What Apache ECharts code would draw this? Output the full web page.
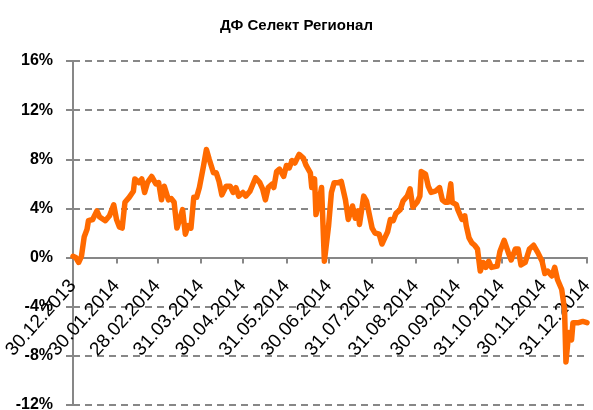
<!DOCTYPE html>
<html>
<head>
<meta charset="utf-8">
<script src="https://cdn.jsdelivr.net/npm/echarts@6/dist/echarts.min.js"></script>
<style>
  html, body { margin: 0; padding: 0; background: #fff; }
  #chart { width: 593px; height: 410px; }
</style>
</head>
<body>
<div id="chart"></div>
<script>
// ДФ Селект Регионал, доходность с 30.12.2013, %
const dates = [
  '2013-12-30', '2014-01-01', '2014-01-03', '2014-01-05', '2014-01-07', '2014-01-09', '2014-01-10',
  '2014-01-13', '2014-01-16', '2014-01-18', '2014-01-22', '2014-01-25', '2014-01-28', '2014-01-30',
  '2014-02-01', '2014-02-03', '2014-02-05', '2014-02-08', '2014-02-11', '2014-02-12', '2014-02-15',
  '2014-02-17', '2014-02-19', '2014-02-21', '2014-02-24', '2014-02-27', '2014-03-01', '2014-03-03',
  '2014-03-05', '2014-03-08', '2014-03-10', '2014-03-12', '2014-03-14', '2014-03-16', '2014-03-18',
  '2014-03-20', '2014-03-22', '2014-03-24', '2014-03-26', '2014-03-28', '2014-03-30', '2014-04-02',
  '2014-04-04', '2014-04-06', '2014-04-09', '2014-04-11', '2014-04-13', '2014-04-15', '2014-04-18',
  '2014-04-21', '2014-04-23', '2014-04-25', '2014-04-27', '2014-04-30', '2014-05-02', '2014-05-05',
  '2014-05-09', '2014-05-12', '2014-05-14', '2014-05-16', '2014-05-18', '2014-05-21', '2014-05-22',
  '2014-05-24', '2014-05-26', '2014-05-29', '2014-05-31', '2014-06-02', '2014-06-04', '2014-06-06',
  '2014-06-09', '2014-06-12', '2014-06-14', '2014-06-17', '2014-06-18', '2014-06-20', '2014-06-21',
  '2014-06-23', '2014-06-25', '2014-06-27', '2014-06-30', '2014-07-02', '2014-07-04', '2014-07-07',
  '2014-07-09', '2014-07-12', '2014-07-14', '2014-07-17', '2014-07-19', '2014-07-21', '2014-07-22',
  '2014-07-25', '2014-07-27', '2014-07-31', '2014-08-02', '2014-08-05', '2014-08-07', '2014-08-09',
  '2014-08-11', '2014-08-13', '2014-08-15', '2014-08-17', '2014-08-20', '2014-08-22', '2014-08-25',
  '2014-08-27', '2014-08-29', '2014-09-01', '2014-09-03', '2014-09-04', '2014-09-07', '2014-09-09',
  '2014-09-11', '2014-09-14', '2014-09-17', '2014-09-19', '2014-09-21', '2014-09-23', '2014-09-25',
  '2014-09-26', '2014-09-29', '2014-09-30', '2014-10-03', '2014-10-05', '2014-10-06', '2014-10-08',
  '2014-10-10', '2014-10-12', '2014-10-14', '2014-10-16', '2014-10-18', '2014-10-20', '2014-10-22',
  '2014-10-24', '2014-10-28', '2014-10-30', '2014-11-02', '2014-11-05', '2014-11-07', '2014-11-10',
  '2014-11-12', '2014-11-14', '2014-11-17', '2014-11-20', '2014-11-23', '2014-11-26', '2014-11-29',
  '2014-12-01', '2014-12-03', '2014-12-06', '2014-12-08', '2014-12-10', '2014-12-13', '2014-12-15',
  '2014-12-16', '2014-12-18', '2014-12-20', '2014-12-21', '2014-12-25', '2014-12-28', '2014-12-31'
]
const returns = [
  0.1, 0.0, -0.4, 0.1, 1.7, 2.3, 3.0,
  3.1, 3.8, 3.3, 3.0, 3.4, 4.3, 3.1,
  2.5, 2.4, 4.5, 4.9, 5.4, 6.4, 6.1,
  6.4, 5.3, 6.1, 6.6, 6.0, 6.1, 4.7,
  5.8, 4.7, 4.8, 4.5, 2.4, 3.1, 3.9,
  1.9, 2.6, 2.4, 4.9, 4.9, 5.7, 7.5,
  8.8, 8.0, 6.9, 6.9, 6.2, 5.1, 5.8,
  5.8, 5.3, 5.7, 5.0, 5.3, 5.0, 5.4,
  6.5, 6.1, 5.6, 4.7, 5.7, 6.0, 5.7,
  7.0, 7.2, 6.6, 7.5, 7.3, 7.9, 7.7,
  8.4, 8.1, 7.5, 6.9, 5.7, 6.4, 3.5,
  4.5, 5.7, -0.3, 2.6, 5.3, 6.1, 6.1,
  6.2, 4.7, 3.1, 4.2, 3.2, 3.8, 2.7,
  5.0, 4.6, 2.4, 2.0, 1.9, 1.1, 1.6,
  2.1, 3.1, 3.0, 3.6, 3.9, 4.6, 5.0,
  5.6, 4.1, 4.5, 5.0, 7.0, 6.8, 5.8,
  5.3, 5.4, 5.7, 4.7, 4.5, 4.5, 6.0,
  4.5, 4.3, 3.9, 3.1, 3.4, 2.6, 1.6,
  1.2, 1.0, 0.7, -1.1, -0.4, -0.8, -0.3,
  -0.8, -0.7, 0.5, 1.4, 0.4, -0.2, 0.7,
  0.7, -0.6, -0.4, 0.7, 1.0, 0.4, -0.3,
  -1.3, -1.1, -1.5, -0.8, -1.8, -2.6, -4.2,
  -8.5, -6.1, -6.7, -5.3, -5.3, -5.2, -5.3
]
// подписи оси X
const tickDates = [
  '2013-12-30', '2014-01-30', '2014-02-28', '2014-03-31', '2014-04-30', '2014-05-31', '2014-06-30',
  '2014-07-31', '2014-08-31', '2014-09-30', '2014-10-31', '2014-11-30', '2014-12-31'
]
const yTicks = [-12, -8, -4, 0, 4, 8, 12, 16]

const gray = '#878787'
const toTime = d => Date.UTC(+d.slice(0, 4), +d.slice(5, 7) - 1, +d.slice(8, 10))
const pad = n => (n < 10 ? '0' : '') + n
const fmtDate = t => {
  const d = new Date(t)
  return pad(d.getUTCDate()) + '.' + pad(d.getUTCMonth() + 1) + '.' + d.getUTCFullYear()
}
const tickValues = tickDates.map(toTime)

// сетка и сдвиг оси X на уровень 0%
const gridTop = 61
const gridBottom = 5
const plotH = 410 - gridTop - gridBottom
const yMin = yTicks[0]
const yMax = yTicks[yTicks.length - 1]
const zeroOffset = -plotH * (0 - yMin) / (yMax - yMin)

const myChart = echarts.init(document.getElementById('chart'))
const option = {
  animation: false,
  title: {
    text: 'ДФ Селект Регионал',
    left: 'center',
    top: 13,
    textStyle: { fontFamily: 'Liberation Sans', fontWeight: 'bold', fontSize: 15, color: '#000' }
  },
  grid: { left: 73, right: 6, top: gridTop, bottom: gridBottom, containLabel: false, outerBoundsMode: 'none' },
  xAxis: {
    type: 'value',
    position: 'bottom',
    offset: zeroOffset,
    min: tickValues[0],
    max: tickValues[tickValues.length - 1],
    axisLine: { onZero: false, lineStyle: { color: gray, width: 2 } },
    axisTick: { show: true, length: 6, customValues: tickValues, lineStyle: { color: gray, width: 2 } },
    axisLabel: {
      customValues: tickValues,
      rotate: 48,
      margin: 25,
      fontFamily: 'Liberation Sans',
      fontSize: 19,
      color: '#000',
      formatter: v => fmtDate(v)
    },
    splitLine: { show: false }
  },
  yAxis: {
    type: 'value',
    min: yMin,
    max: yMax,
    interval: 4,
    axisLine: { show: true, onZero: false, lineStyle: { color: gray, width: 2 } },
    axisTick: { show: true, length: 7, lineStyle: { color: gray, width: 2 } },
    axisLabel: {
      margin: 20,
      fontFamily: 'Liberation Sans',
      fontWeight: 'bold',
      fontSize: 16,
      color: '#000',
      formatter: '{value}%'
    },
    splitLine: { show: true, lineStyle: { color: gray, width: 2, type: [7, 5] } }
  },
  series: [{
    type: 'line',
    data: dates.map((d, i) => [toTime(d), returns[i]]),
    showSymbol: false,
    lineStyle: { color: '#FF6A00', width: 5.5, cap: 'round', join: 'round' }
  }]
}
myChart.setOption(option)
</script>
</body>
</html>
